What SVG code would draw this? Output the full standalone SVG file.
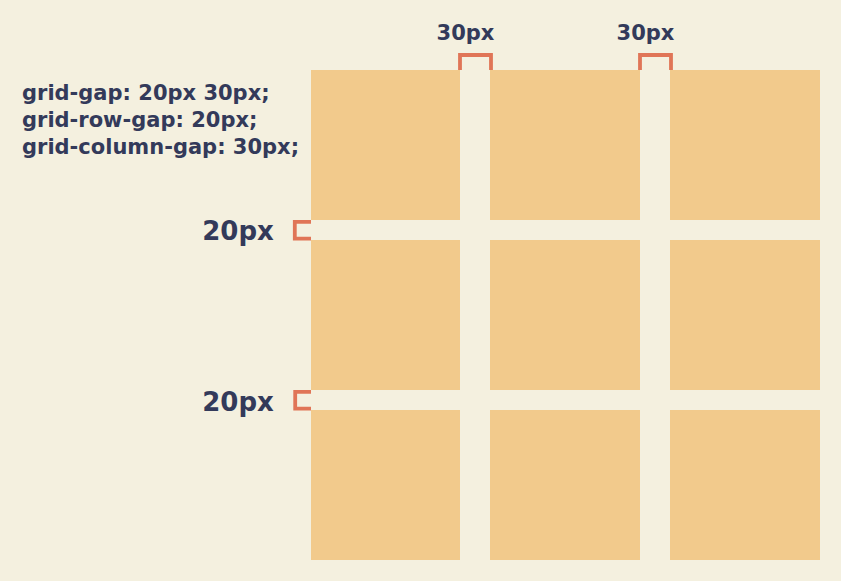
<svg xmlns="http://www.w3.org/2000/svg" width="841" height="581" viewBox="0 0 841 581">
<style>
.cell{fill:#F2CA8C}
.br{fill:none;stroke:#E07557;stroke-width:3.8}
.t{font-family:"DejaVu Sans","Liberation Sans",sans-serif;font-weight:bold;fill:#333A5A}
</style>
<rect width="841" height="581" fill="#F4F0DF"/>
<g id="cells">
<rect id="c11" class="cell" x="311" y="70" width="149" height="150"/>
<rect id="c12" class="cell" x="490" y="70" width="150" height="150"/>
<rect id="c13" class="cell" x="670" y="70" width="150" height="150"/>
<rect id="c21" class="cell" x="311" y="240" width="149" height="150"/>
<rect id="c22" class="cell" x="490" y="240" width="150" height="150"/>
<rect id="c23" class="cell" x="670" y="240" width="150" height="150"/>
<rect id="c31" class="cell" x="311" y="410" width="149" height="150"/>
<rect id="c32" class="cell" x="490" y="410" width="150" height="150"/>
<rect id="c33" class="cell" x="670" y="410" width="150" height="150"/>
</g>
<g id="brackets">
<path class="br" d="M460 70 V55 H491 V70"/>
<path class="br" d="M640 70 V55 H671 V70"/>
<path class="br" d="M311 221.8 H294.8 V238.6 H311"/>
<path class="br" d="M311 391.8 H295.2 V408.6 H311"/>
</g>
<g id="labels">
<text class="t" x="465.5" y="40" font-size="21" text-anchor="middle">30px</text>
<text class="t" x="645.5" y="40" font-size="21" text-anchor="middle">30px</text>
<text class="t" x="238" y="240" font-size="26" text-anchor="middle">20px</text>
<text class="t" x="238" y="411" font-size="26" text-anchor="middle">20px</text>
<text class="t" x="22" y="99.5" font-size="21">grid-gap: 20px 30px;</text>
<text class="t" x="22" y="126.5" font-size="21">grid-row-gap: 20px;</text>
<text class="t" x="22" y="153.5" font-size="21">grid-column-gap: 30px;</text>
</g>
</svg>
